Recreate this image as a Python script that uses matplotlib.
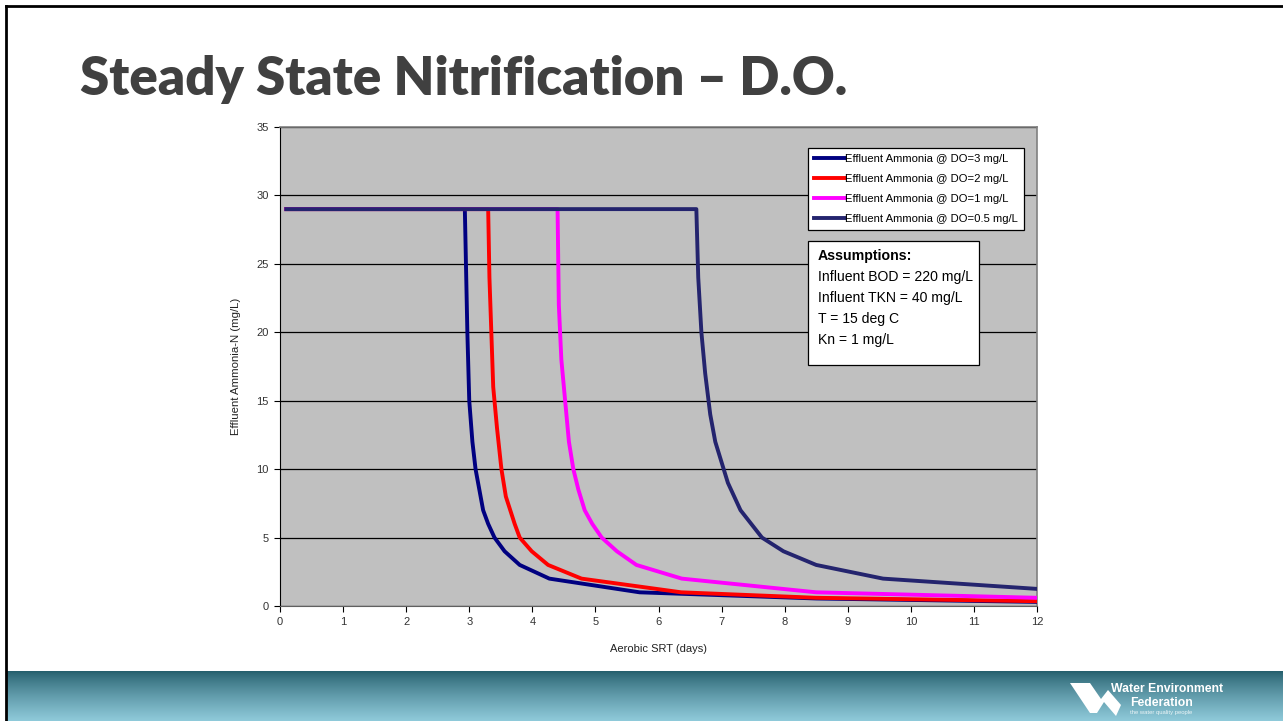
import numpy as np
import matplotlib
matplotlib.use("Agg")
import matplotlib.pyplot as plt
from matplotlib import font_manager
from matplotlib.patches import Rectangle, Polygon

# effluent ammonia vs aerobic SRT for each dissolved oxygen level
srt_do3 = [0.1, 2.93, 2.97, 3.0, 3.05, 3.1, 3.16, 3.22, 3.3, 3.4, 3.56, 3.8, 4.27, 5.7, 8.5, 12]
nh3_do3 = [29, 29, 20, 15, 12, 10, 8.5, 7, 6, 5, 4, 3, 2, 1, 0.55, 0.3]

srt_do2 = [0.1, 3.3, 3.32, 3.38, 3.44, 3.51, 3.58, 3.65, 3.72, 3.8, 3.99, 4.25, 4.78, 6.36, 8.5, 12]
nh3_do2 = [29, 29, 24, 16, 13, 10, 8, 7, 6, 5, 4, 3, 2, 1, 0.6, 0.35]

srt_do1 = [0.1, 4.4, 4.42, 4.46, 4.52, 4.58, 4.65, 4.73, 4.83, 4.95, 5.1, 5.34, 5.65, 6.37, 8.5, 12]
nh3_do1 = [29, 29, 22, 18, 15, 12, 10, 8.5, 7, 6, 5, 4, 3, 2, 1, 0.6]

srt_do05 = [0.1, 6.6, 6.63, 6.68, 6.74, 6.82, 6.9, 7.0, 7.1, 7.3, 7.64, 7.98, 8.5, 9.56, 12]
nh3_do05 = [29, 29, 24, 20, 17, 14, 12, 10.5, 9, 7, 5, 4, 3, 2, 1.25]

labels = ["Effluent Ammonia @ DO=3 mg/L", "Effluent Ammonia @ DO=2 mg/L",
          "Effluent Ammonia @ DO=1 mg/L", "Effluent Ammonia @ DO=0.5 mg/L"]
colors = ["#000080", "#FF0000", "#FF00FF", "#24246E"]

assumptions = ["Influent BOD = 220 mg/L", "Influent TKN = 40 mg/L", "T = 15 deg C", "Kn = 1 mg/L"]

names = {f.name for f in font_manager.fontManager.ttflist}
narrow = "Liberation Sans Narrow" if "Liberation Sans Narrow" in names else "Liberation Sans"

W, H = 1283, 721
fig = plt.figure(figsize=(W / 100, H / 100), dpi=100)


def fx(px):
    return px / W


def fy(py):
    return 1 - py / H


# slide frame lines
fig.add_artist(plt.Line2D([fx(6), fx(6)], [fy(6), 0], color="black", lw=2.0))
fig.add_artist(plt.Line2D([fx(6), 1], [fy(6), fy(6)], color="black", lw=2.0))

# title
fig.text(fx(80), fy(95), "Steady State Nitrification \u2013 D.O.", fontsize=38,
         fontweight="heavy", family="Lato", color="#404040", va="baseline", ha="left")

# bottom banner with gradient
bax = fig.add_axes([fx(7), 0, 1 - fx(7), fy(671)])
grad = np.linspace(0, 1, 100).reshape(-1, 1)
top_c = np.array([36, 94, 108]) / 255
bot_c = np.array([143, 202, 218]) / 255
img = top_c + (bot_c - top_c) * grad[:, :, None] ** 0.8
bax.imshow(img, aspect="auto", extent=[0, 1, 0, 1], origin="upper")
bax.set_xlim(0, 1)
bax.set_ylim(0, 1)
bax.axis("off")


def lp(px, py):
    return ((px - 7) / (W - 7), (721 - py) / 50)


# logo
w_shape = [lp(1070, 683), lp(1090, 683), lp(1101, 699), lp(1108, 690), lp(1121, 705),
           lp(1116, 716), lp(1104, 702), lp(1097, 713), lp(1090, 713)]
bax.add_patch(Polygon(w_shape, closed=True, color="white", lw=0))
bax.text(*lp(1111, 692), "Water Environment", color="white", fontsize=8.8,
         fontweight="bold", family=narrow, va="baseline", ha="left")
bax.text(*lp(1130, 706), "Federation", color="white", fontsize=8.8,
         fontweight="bold", family=narrow, va="baseline", ha="left")
bax.text(*lp(1130, 714), "the water quality people", color="white", fontsize=4.2,
         family=narrow, va="baseline", ha="left", alpha=0.85)

# chart
ax = fig.add_axes([fx(280), fy(606), fx(1037) - fx(280), fy(127) - fy(606)])
ax.set_facecolor("#C0C0C0")
series = [(srt_do3, nh3_do3), (srt_do2, nh3_do2), (srt_do1, nh3_do1), (srt_do05, nh3_do05)]
handles = []
for (x, y), c, lab in zip(series, colors, labels):
    h, = ax.plot(x, y, color=c, lw=2.8, label=lab, solid_joinstyle="round", zorder=3)
    handles.append(h)

ax.set_xlim(0, 12)
ax.set_ylim(0, 35)
ax.set_xticks(range(0, 13))
ax.set_yticks(range(0, 36, 5))
ax.yaxis.grid(True, color="black", lw=0.9)
ax.set_axisbelow(True)
for s in ["top", "right"]:
    ax.spines[s].set_color("#808080")
    ax.spines[s].set_linewidth(1.2)
ax.spines["left"].set_color("black")
ax.spines["bottom"].set_color("#606060")
ax.tick_params(direction="out", length=4, width=0.8, labelsize=8, colors="black",
               labelcolor="#333333", pad=4)
for t in ax.get_xticklabels() + ax.get_yticklabels():
    t.set_family(narrow)
ax.set_xlabel("Aerobic SRT (days)", fontsize=8, family=narrow, color="#222222", labelpad=12)
ax.set_ylabel("Effluent Ammonia-N (mg/L)", fontsize=8.2, family=narrow, color="#222222", labelpad=11)

leg = ax.legend(handles=handles, loc="upper left", bbox_to_anchor=(fx(808), fy(148)),
                bbox_transform=fig.transFigure, frameon=True, fancybox=False,
                prop={"family": narrow, "size": 8.1}, handlelength=2.7, handletextpad=0.05,
                labelspacing=0.88, borderpad=0.55, borderaxespad=0)
leg.get_frame().set_edgecolor("black")
leg.get_frame().set_linewidth(0.9)
leg.get_frame().set_facecolor("white")
leg.get_frame().set_alpha(1)

# assumptions box
fig.add_artist(Rectangle((fx(808), fy(365)), fx(979) - fx(808), fy(241) - fy(365),
                         transform=fig.transFigure, facecolor="white", edgecolor="black",
                         lw=0.9, zorder=5))
fig.text(fx(818), fy(256), "Assumptions:", fontsize=10.2, fontweight="bold",
         family=narrow, va="center", ha="left", zorder=6)
for i, line in enumerate(assumptions):
    fig.text(fx(818), fy(277 + 21 * i), line, fontsize=10.1, family=narrow,
             va="center", ha="left", zorder=6)

fig.savefig("out.png", dpi=100)
